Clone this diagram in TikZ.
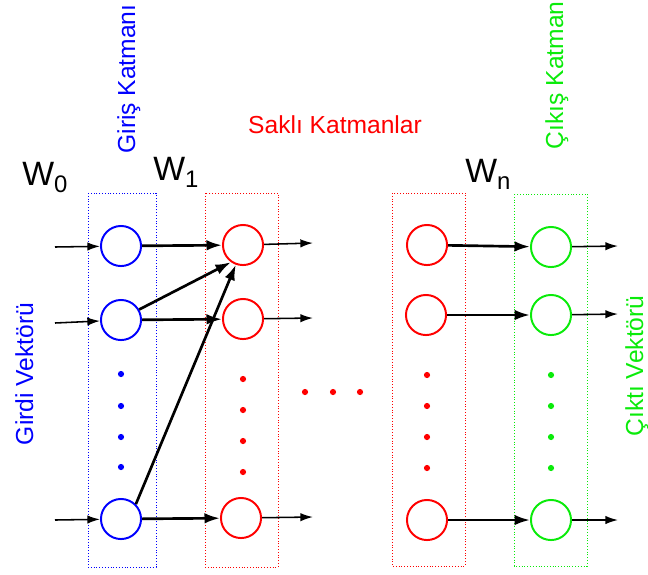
\documentclass[tikz,border=0pt]{standalone}
\usepackage{fontspec}
\setmainfont{Liberation Sans}
\usetikzlibrary{arrows.meta}

\definecolor{outgreen}{RGB}{10,235,10}
\newcommand{\weight}[1]{W\raisebox{-5.5pt}{\fontsize{17pt}{17pt}\selectfont #1}}

\begin{document}
\begin{tikzpicture}[x=0.025cm,y=-0.025cm,
  neuron/.style={circle,draw,line width=1.4pt,minimum size=28.5pt,inner sep=0pt},
  layerbox/.style={line width=0.7pt,dash pattern=on 0.7pt off 1.3pt},
  feed/.style={line width=1.9pt,-{Latex[length=11pt,width=7.5pt]}},
  thinfeed/.style={line width=1.1pt,-{Latex[length=9pt,width=6pt]}},
  txt/.style={font=\fontsize{17.5pt}{21pt}\selectfont,inner sep=0pt},
  wlabel/.style={font=\fontsize{24pt}{28pt}\selectfont,inner sep=0pt,anchor=base west}]
\useasboundingbox (0,0) rectangle (648,574);

\draw[layerbox,blue] (88,193) rectangle (156,567);
\draw[layerbox,red] (205,193) rectangle (278,567);
\draw[layerbox,red] (392,193) rectangle (465,566);
\draw[layerbox,outgreen] (514,194) rectangle (587,566);

\node[neuron,blue] (in1) at (121,246) {};
\node[neuron,blue] (in2) at (121,320) {};
\node[neuron,blue] (in3) at (121,519) {};

\node[neuron,red] (h1a) at (243,245) {};
\node[neuron,red] (h1b) at (243,319) {};
\node[neuron,red] (h1c) at (241,518) {};

\node[neuron,red] (hna) at (427,245) {};
\node[neuron,red] (hnb) at (426,315) {};
\node[neuron,red] (hnc) at (427,520) {};

\node[neuron,outgreen] (out1) at (551,247) {};
\node[neuron,outgreen] (out2) at (551,315) {};
\node[neuron,outgreen] (out3) at (551,520) {};

\foreach \y in {374,406,437,467} \fill[blue] (121,\y) circle[radius=2.2pt];
\foreach \y in {379,410,441,472} \fill[red] (243,\y) circle[radius=2.2pt];
\foreach \y in {375,406,437,468} \fill[red] (427,\y) circle[radius=2.2pt];
\foreach \y in {375,406,437,468} \fill[outgreen] (551,\y) circle[radius=2.2pt];
\foreach \x in {305,333,360} \fill[red] (\x,392) circle[radius=2.2pt];

\coordinate (x1) at (55,247);
\coordinate (x2) at (55,323);
\coordinate (x3) at (55,520);
\coordinate (h1aout) at (313,243);
\coordinate (h1bout) at (313,318);
\coordinate (h1cout) at (313,517);
\coordinate (y1) at (618,246);
\coordinate (y2) at (618,314);
\coordinate (y3) at (618,520);

\draw[thinfeed] (x1) -- (in1);
\draw[thinfeed] (x2) -- (in2);
\draw[thinfeed] (x3) -- (in3);

\draw[feed] (in1) -- (h1a);
\draw[feed] (in2) -- (h1b);
\draw[feed] (in3) -- (h1c);
\draw[feed] (in2.30) -- (h1a.235);
\draw[feed] (in3.45) -- (h1a.250);

\draw[thinfeed] (h1a) -- (h1aout);
\draw[thinfeed] (h1b) -- (h1bout);
\draw[thinfeed] (h1c) -- (h1cout);

\draw[feed] (hna) -- (out1);
\draw[feed] (hnb) -- (out2);
\draw[feed] (hnc) -- (out3);

\draw[thinfeed] (out1) -- (y1);
\draw[thinfeed] (out2) -- (y2);
\draw[thinfeed] (out3) -- (y3);

\node[txt,blue,rotate=90,anchor=base] (inlayer) at (135,79) {Giriş Katmanı};
\node[txt,red,anchor=base] (hidlayer) at (335,133) {Saklı Katmanlar};
\node[txt,outgreen,rotate=90,anchor=base] (outlayer) at (563,72) {Çıkış Katmanı};
\node[txt,blue,rotate=90,anchor=base] (invec) at (33,374) {Girdi Vektörü};
\node[txt,outgreen,rotate=90,anchor=base] (outvec) at (643,366) {Çıktı Vektörü};

\node[wlabel] (w0) at (22,185) {\weight{0}};
\node[wlabel] (w1) at (153,180) {\weight{1}};
\node[wlabel] (wn) at (465,182) {\weight{n}};
\end{tikzpicture}
\end{document}
